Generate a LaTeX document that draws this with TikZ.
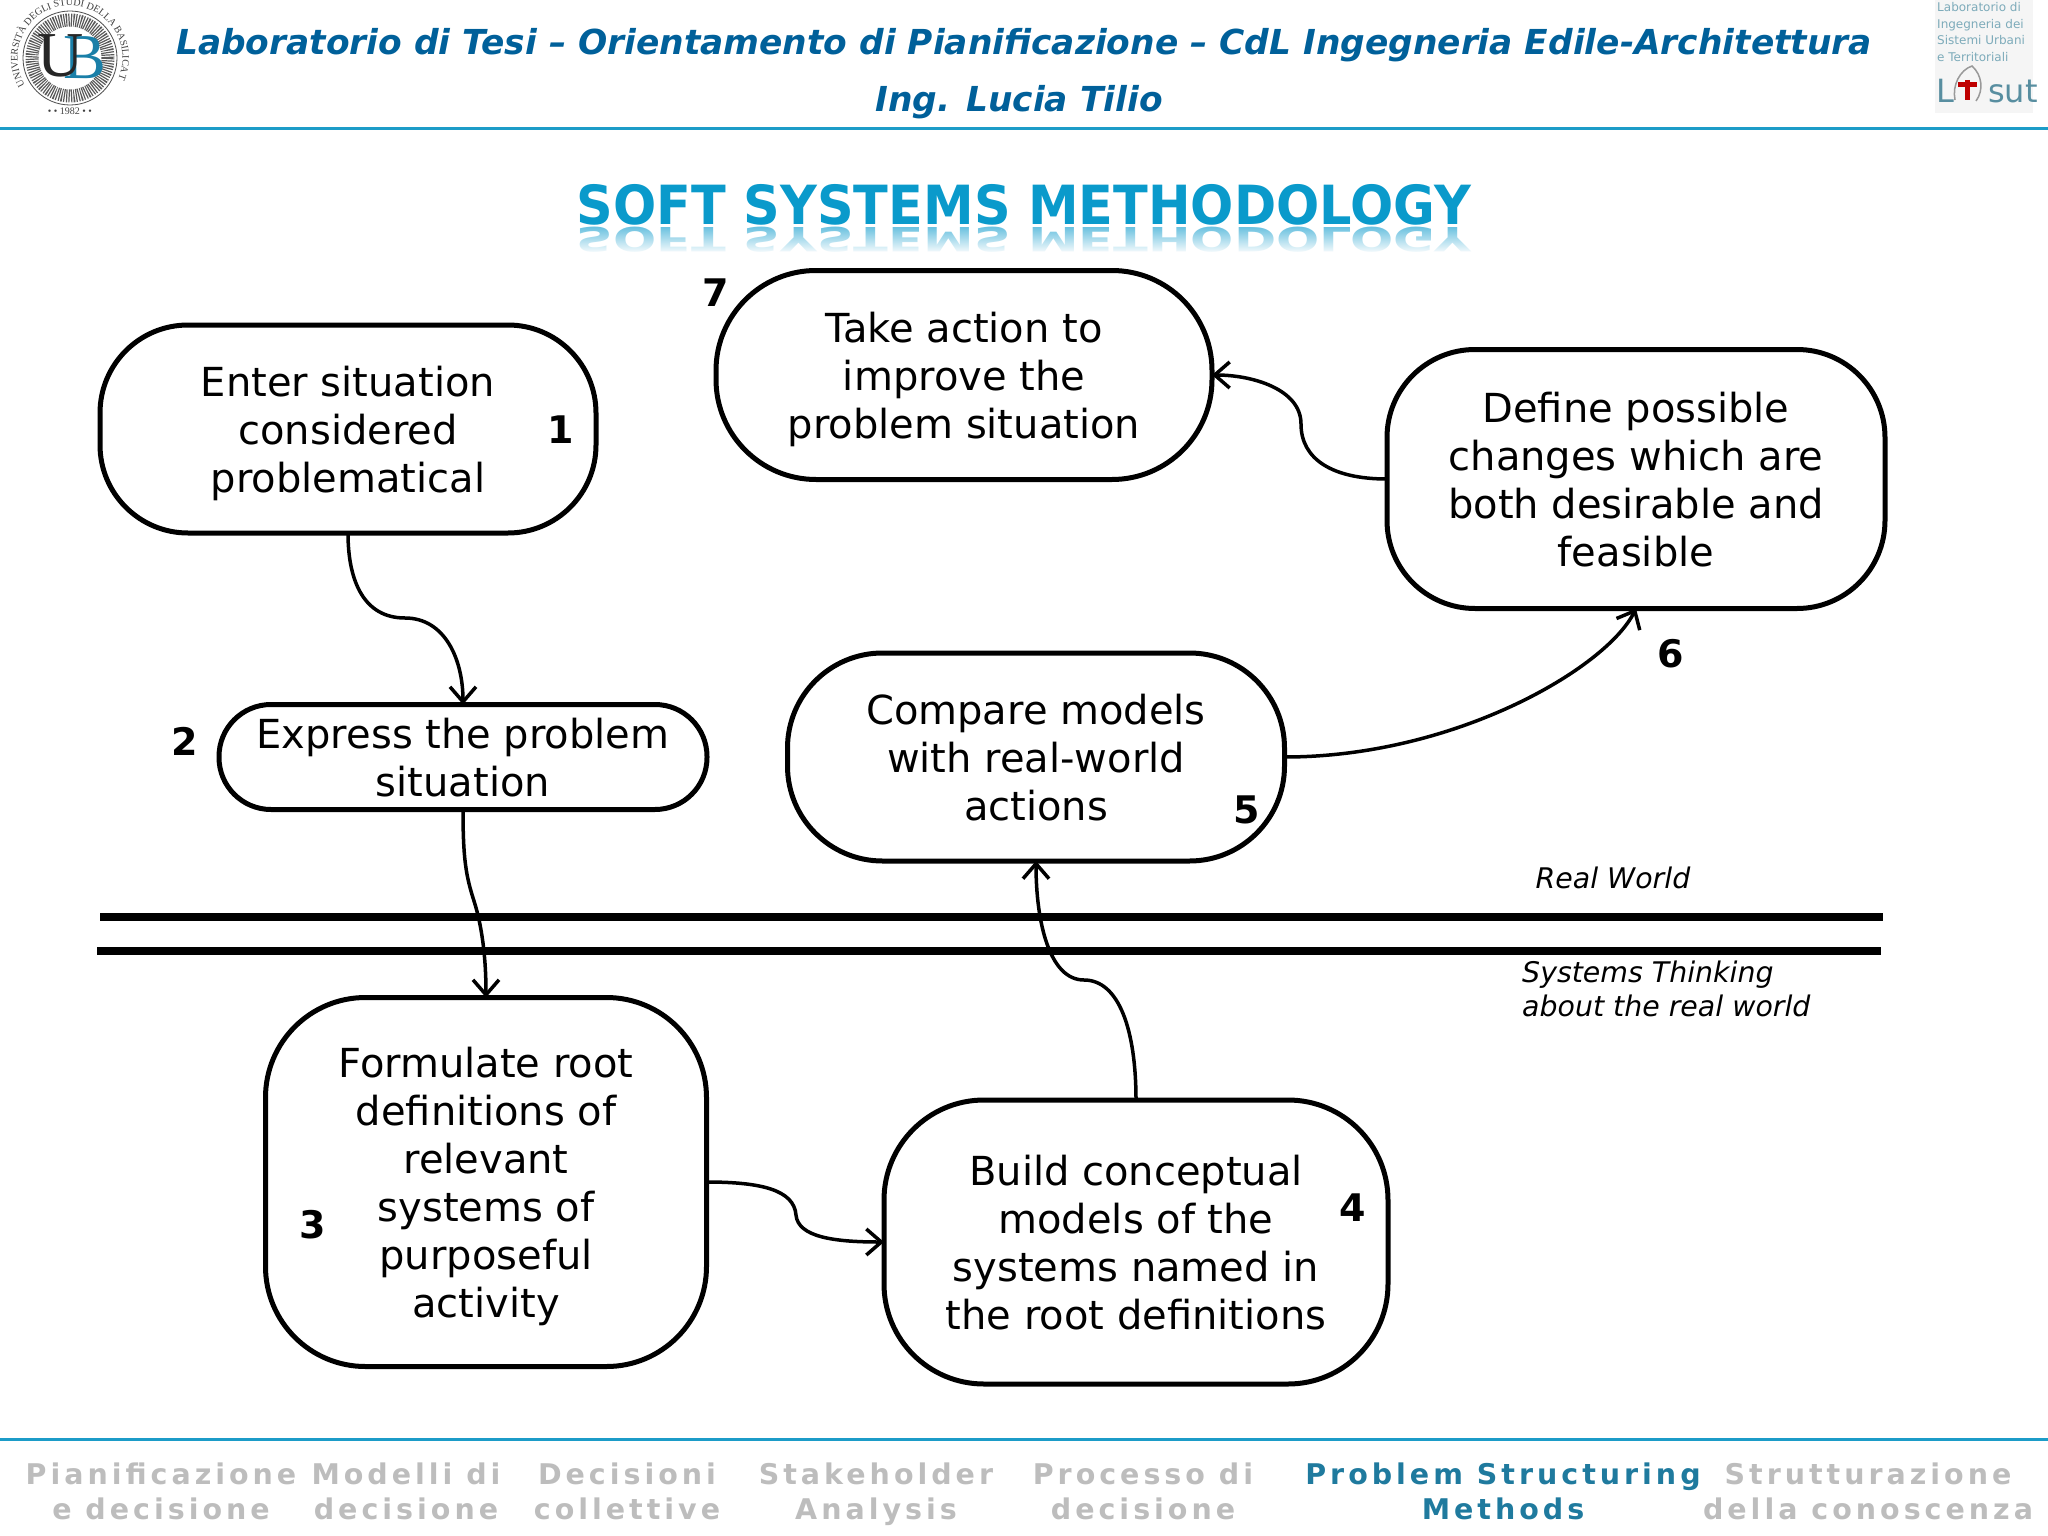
\documentclass[tikz,border=0pt]{standalone}
\usepackage{fontspec}
\setmainfont{DejaVu Sans}
\newfontfamily\footfont[LetterSpace=14]{DejaVu Sans Bold}
\newfontfamily\seriffont{Liberation Serif}
\usetikzlibrary{arrows.meta,fadings,decorations.text,shapes.geometric}
\definecolor{headblue}{HTML}{00609A}
\definecolor{rule}{HTML}{1C9CC8}
\definecolor{titleblue}{HTML}{0A9ACB}
\definecolor{footactive}{HTML}{1F7A9E}
\definecolor{footgrey}{HTML}{BDBDBD}
\definecolor{logoteal}{HTML}{1A7FA8}
\tikzset{
  stage/.style={draw=black,line width=5pt,rounded corners=#1,align=center,inner sep=0pt,outer sep=0pt,
     text depth=0pt,font=\fontsize{40}{48}\selectfont},
  num/.style={font=\fontsize{38}{44}\selectfont\bfseries,inner sep=0pt},
  flow/.style={draw=black,line width=3.5pt,-{Straight Barb[length=15pt,width=26pt,line width=3.5pt]}},
  bar/.style={line width=8pt,black},
  worldlabel/.style={font=\fontsize{28.4}{34}\selectfont\itshape,inner sep=0pt,align=left},
  headtext/.style={font=\fontsize{34.4}{40}\selectfont\bfseries\itshape,text=headblue,inner sep=0pt},
  foot/.style={font=\footfont\fontsize{28.5}{35}\selectfont,text=footgrey,align=center,inner sep=0pt,text depth=0pt},
  rulerline/.style={line width=3pt,rule},
}
\begin{document}
\begin{tikzpicture}[x=1pt,y=-1pt]
\useasboundingbox (0,0) rectangle (2048,1536);
% header
\node[headtext] (head1) at (1024,45) {Laboratorio di Tesi – Orientamento di Pianificazione – CdL Ingegneria Edile-Architettura};
\node[headtext] (head2) at (1019,102) {Ing. Lucia Tilio};
\draw[rulerline] (0,129) -- (2048,129);
% left logo
\begin{scope}[shift={(70,58)},y=1pt]
  \draw[line width=0.8pt,black!70] (0,0) circle (47);
  \draw[line width=13pt,black!65,dash pattern=on 1.2pt off 1.2pt] (0,0) circle (38);
  \path[decorate,decoration={text along path,text align=center,
     text={|\seriffont\fontsize{10}{10}\selectfont\color{black!75}|UNIVERSITÀ DEGLI STUDI DELLA BASILICATA}}]
     (-49,-19) arc (201:-21:52.5);
  \node[inner sep=0pt,font=\seriffont\fontsize{10}{10}\selectfont,text=black!75] (logoyear) at (0,-53) {• • 1982 • •};
  \node[inner sep=0pt,font=\seriffont\fontsize{64}{64}\selectfont,text=logoteal] (logob) at (15,0) {B};
  \node[inner sep=0pt,font=\seriffont\fontsize{64}{64}\selectfont,text=black!85] (logou) at (-9,2) {U};
\end{scope}
% right logo
\fill[black!4] (1935,0) rectangle (2033,113);
\node[inner sep=0pt,align=left,anchor=north west,font=\fontsize{12}{16.8}\selectfont,text=black!35!rule!55] (lablogo) at (1937,2) {Laboratorio di\\Ingegneria dei\\Sistemi Urbani\\e Territoriali};
\node[inner sep=0pt,anchor=base west,font=\fontsize{32}{32}\selectfont,text=rule!60!black!70] (lisutl) at (1936,103) {L};
\node[inner sep=0pt,anchor=base west,font=\fontsize{32}{32}\selectfont,text=rule!60!black!70] (lisuts) at (1988,103) {sut};
\draw[line width=5pt,red!75!black] (1967,80) -- (1967,100) (1958,85) -- (1977,85);
\draw[line width=1.5pt,black!40] (1955,100) .. controls (1952,85) and (1960,70) .. (1972,66) .. controls (1982,75) and (1984,90) .. (1976,101);
% title with reflection
\node[inner sep=0pt,anchor=base,font=\fontsize{54}{60}\selectfont\bfseries,text=titleblue,xscale=0.942,transform shape] (title) at (1024,224) {SOFT SYSTEMS METHODOLOGY};
\node[inner sep=0pt,anchor=base,font=\fontsize{54}{60}\selectfont\bfseries,text=titleblue!60,xscale=0.942,yscale=-0.62,transform shape] (titlerefl) at (1024,227) {SOFT SYSTEMS METHODOLOGY};
\fill[white,path fading=north] (560,227) rectangle (1490,254);
% stages
\node[stage=88pt,minimum width=496pt,minimum height=208pt] (s1) at (348,429) {Enter situation\\considered\\problematical};
\node[stage=52pt,minimum width=488pt,minimum height=105pt] (s2) at (463,757) {Express the problem\\situation};
\node[stage=100pt,minimum width=441pt,minimum height=369pt] (s3) at (486,1182) {Formulate root\\definitions of\\relevant\\systems of\\purposeful\\activity};
\node[stage=100pt,minimum width=504pt,minimum height=284pt] (s4) at (1136,1242) {Build conceptual\\models of the\\systems named in\\the root definitions};
\node[stage=95pt,minimum width=497pt,minimum height=208pt] (s5) at (1036,757) {Compare models\\with real-world\\actions};
\node[stage=88pt,minimum width=498pt,minimum height=259pt] (s6) at (1636,479) {Define possible\\changes which are\\both desirable and\\feasible};
\node[stage=100pt,minimum width=496pt,minimum height=209pt] (s7) at (964,375) {Take action to\\improve the\\problem situation};
% numbers
\node[num] (n1) at (561,430) {1};
\node[num] (n2) at (185,741) {2};
\node[num] (n3) at (313,1225) {3};
\node[num] (n4) at (1353,1208) {4};
\node[num] (n5) at (1247,810) {5};
\node[num] (n6) at (1671,654) {6};
\node[num] (n7) at (716,293) {7};
% mid points of curved connectors
\coordinate (m12) at (405,618);
\coordinate (m23) at (474,901);
\coordinate (m34) at (796,1215);
\coordinate (m45) at (1084,980);
\coordinate (m67) at (1301,424);
% connectors
\draw[flow] (s1.south) .. controls +(0,50) and +(-40,0) .. (m12) .. controls +(40,0) and +(0,-45) .. (s2.north);
\draw[flow] (s2.south) .. controls +(0,50) and +(-8,-25) .. (m23) .. controls +(8,25) and +(0,-40) .. (s3.north);
\draw[flow] (s3.east) .. controls +(55,0) and +(-2,-25) .. (m34) .. controls +(2,22) and +(-50,0) .. (s4.west);
\draw[flow] (s4.north) .. controls +(0,-70) and +(35,0) .. (m45) .. controls +(-35,0) and +(0,60) .. (s5.south);
\draw[flow] (s5.east) .. controls +(170,0) and +(-30,60) .. (s6.south);
\draw[flow] (s6.west) .. controls +(-55,0) and +(0,35) .. (m67) .. controls +(0,-35) and +(40,0) .. (s7.east);
% world boundary
\coordinate (b1l) at (100,917); \coordinate (b1r) at (1883,917);
\coordinate (b2l) at (97,951); \coordinate (b2r) at (1881,951);
\draw[bar] (b1l) -- (b1r);
\draw[bar] (b2l) -- (b2r);
\node[worldlabel] (real) at (1613,878) {Real World};
\node[worldlabel,anchor=north west] (sys) at (1522,961) {Systems Thinking\\about the real world};
% footer
\draw[rulerline] (0,1439) -- (2048,1439);
\node[foot] (f1) at (161,1491) {Pianificazione\\e decisione};
\node[foot] (f2) at (406,1491) {Modelli di\\decisione};
\node[foot] (f3) at (627,1491) {Decisioni\\collettive};
\node[foot] (f4) at (876,1491) {Stakeholder\\Analysis};
\node[foot] (f5) at (1143,1491) {Processo di\\decisione};
\node[foot,text=footactive] (f6) at (1503,1491) {Problem Structuring\\Methods};
\node[foot] (f7) at (1868,1491) {Strutturazione\\della conoscenza};
\end{tikzpicture}
\end{document}
